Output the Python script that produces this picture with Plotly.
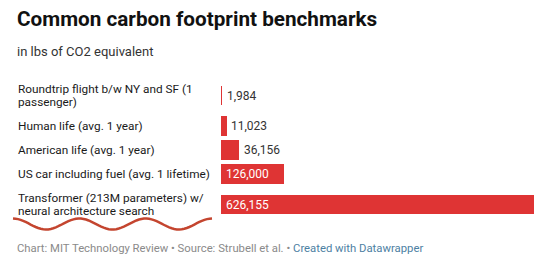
import numpy as np
import plotly.graph_objects as go

# ---- data ----
labels = [
    "Roundtrip flight b/w NY and SF (1<br>passenger)",
    "Human life (avg. 1 year)",
    "American life (avg. 1 year)",
    "US car including fuel (avg. 1 lifetime)",
    "Transformer (213M parameters) w/<br>neural architecture search",
]
values = [1984, 11023, 36156, 126000, 626155]
value_text = ["1,984", "11,023", "36,156", "126,000", "626,155"]

title = "Common carbon footprint benchmarks"
subtitle = "in lbs of CO2 equivalent"
footer_gray = "Chart: MIT Technology Review • Source: Strubell et al. • "
footer_link = "Created with Datawrapper"

# ---- layout geometry ----
W, H = 550, 261
ML, MR, MT, MB = 16, 16, 77, 38
PW, PH = W - ML - MR, H - MT - MB
BAR_START_PX = 220.7
dom0 = (BAR_START_PX - ML) / PW
bar_px = W - MR - BAR_START_PX
BAR_COLOR = "#df3434"

# row positions in px units derived from label line counts
row_h = [24 + 13 * (l.count("<br>")) for l in labels]
centers = []
acc = 0
for h in row_h:
    centers.append(acc + h / 2)
    acc += h
total = acc


def py(p):  # pixel y -> paper y
    return (H - MB - p) / PH


def px(p):  # pixel x -> paper x
    return (p - ML) / PW


fig = go.Figure()
fig.add_trace(go.Bar(
    x=values, y=centers, orientation="h", width=19.5,
    marker=dict(color=BAR_COLOR, line=dict(width=0)),
    hoverinfo="skip",
))

annotations = []
FONT = "Roboto"
# category labels, one annotation per line
for lab, c in zip(labels, centers):
    lines = lab.split("<br>")
    n = len(lines)
    for i, ln in enumerate(lines):
        off = (i - (n - 1) / 2) * 13.5
        annotations.append(dict(
            x=0, xref="paper", y=c + off, yref="y", text=ln, showarrow=False,
            xanchor="left", yanchor="middle", align="left",
            font=dict(family=FONT, size=11.8, color="#1a1a1a"),
        ))

# value labels
vmax = max(values)
for v, t, c in zip(values, value_text, centers):
    bw = v / vmax * bar_px
    tw = len(t) * 6.8
    inside = bw > tw + 10
    annotations.append(dict(
        x=0 if inside else v, xref="x", y=c, yref="y", text=t, showarrow=False,
        xanchor="left", yanchor="middle", xshift=3,
        font=dict(family=FONT, size=12, color="#ffffff" if inside else "#333"),
    ))

# title / subtitle / footer
annotations.append(dict(
    x=px(15), xref="paper", y=py(19), yref="paper", text="<b>" + title + "</b>",
    showarrow=False, xanchor="left", yanchor="middle",
    font=dict(family=FONT, size=20.7, color="#111"),
))
annotations.append(dict(
    x=px(15), xref="paper", y=py(51.5), yref="paper", text=subtitle,
    showarrow=False, xanchor="left", yanchor="middle",
    font=dict(family=FONT, size=13, color="#333"),
))
annotations.append(dict(
    x=px(15), xref="paper", y=py(248), yref="paper",
    text=footer_gray + "<span style='color:#4d7fa3'>" + footer_link + "</span>",
    showarrow=False, xanchor="left", yanchor="middle",
    font=dict(family=FONT, size=11.3, color="#8a8a8a"),
))

# hand-drawn red squiggle under the last label (decoration)
xs = np.linspace(13, 212, 80)
ys = 224 - 5.5 * np.cos((xs - 13) / (212 - 13) * 3 * 2 * np.pi)
path = "M " + " L ".join(f"{px(a):.4f},{py(b):.4f}" for a, b in zip(xs, ys))
shapes = [dict(type="path", path=path, xref="paper", yref="paper",
               line=dict(color="#c4452f", width=2.5))]

fig.update_layout(
    width=W, height=H,
    margin=dict(l=ML, r=MR, t=MT, b=MB, pad=0),
    paper_bgcolor="white", plot_bgcolor="white",
    showlegend=False,
    xaxis=dict(domain=[dom0, 1], range=[0, vmax], visible=False, fixedrange=True),
    yaxis=dict(range=[total, 0], visible=False, fixedrange=True),
    annotations=annotations, shapes=shapes,
    bargap=0,
)

fig.write_html("out.html", config={"displayModeBar": False})
